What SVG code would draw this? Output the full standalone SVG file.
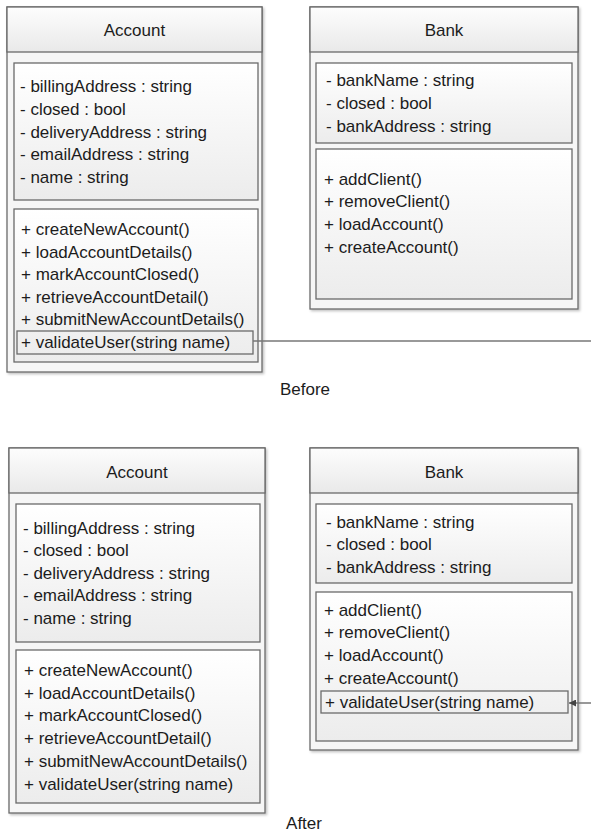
<svg xmlns="http://www.w3.org/2000/svg" width="591" height="834" viewBox="0 0 591 834">
  <defs>
    <linearGradient id="boxFill" x1="0" y1="0" x2="0" y2="1">
      <stop offset="0" stop-color="#ffffff"/>
      <stop offset="1" stop-color="#ececec"/>
    </linearGradient>
    <linearGradient id="headFill" x1="0" y1="0" x2="0" y2="1">
      <stop offset="0" stop-color="#fdfdfd"/>
      <stop offset="1" stop-color="#e9e9e9"/>
    </linearGradient>
    <filter id="shadow" x="-5%" y="-5%" width="110%" height="110%">
      <feDropShadow dx="1.5" dy="1.5" stdDeviation="1" flood-color="#000" flood-opacity="0.25"/>
    </filter>
    <marker id="arrow" viewBox="0 0 10 10" refX="10" refY="5" markerWidth="7" markerHeight="7" orient="auto-start-reverse" markerUnits="userSpaceOnUse">
      <path d="M0,0 L10,5 L0,10 z" fill="#444"/>
    </marker>
  </defs>
  <style>
    .outer { fill: #f6f6f6; stroke: #6a6a6a; stroke-width: 1.3; }
    .head { fill: url(#headFill); stroke: #6a6a6a; stroke-width: 1.3; }
    .comp { fill: url(#boxFill); stroke: #6a6a6a; stroke-width: 1.3; }
    .hl { fill: none; stroke: #6a6a6a; stroke-width: 1.3; }
    .conn { fill: none; stroke: #777; stroke-width: 1.5; }
    text { font-family: "Liberation Sans", Arial, sans-serif; font-size: 17px; fill: #1c1c1c; }
    .title { text-anchor: middle; }
    .cap { text-anchor: middle; }
  </style>

  <rect width="591" height="834" fill="#ffffff"/>

  <!-- Before: Account class -->
  <g id="account-before">
    <rect class="outer" x="7" y="7" width="255" height="365" filter="url(#shadow)"/>
    <rect class="head" x="7" y="7" width="255" height="45"/>
    <text class="title" x="134.5" y="36">Account</text>
    <rect class="comp" x="14" y="63" width="244" height="137"/>
    <text x="20" y="92">- billingAddress : string</text>
    <text x="20" y="115">- closed : bool</text>
    <text x="20" y="138">- deliveryAddress : string</text>
    <text x="20" y="160">- emailAddress : string</text>
    <text x="20" y="183">- name : string</text>
    <rect class="comp" x="14" y="209" width="244" height="153"/>
    <text x="21" y="235">+ createNewAccount()</text>
    <text x="21" y="258">+ loadAccountDetails()</text>
    <text x="21" y="280">+ markAccountClosed()</text>
    <text x="21" y="303">+ retrieveAccountDetail()</text>
    <text x="21" y="325">+ submitNewAccountDetails()</text>
    <rect class="hl" x="17" y="331" width="236" height="23"/>
    <text x="21" y="348">+ validateUser(string name)</text>
  </g>

  <!-- Before: Bank class -->
  <g id="bank-before">
    <rect class="outer" x="310" y="7" width="268" height="302" filter="url(#shadow)"/>
    <rect class="head" x="310" y="7" width="268" height="45"/>
    <text class="title" x="444" y="36">Bank</text>
    <rect class="comp" x="316" y="63" width="256" height="80"/>
    <text x="326" y="86">- bankName : string</text>
    <text x="326" y="109">- closed : bool</text>
    <text x="326" y="132">- bankAddress : string</text>
    <rect class="comp" x="316" y="149" width="256" height="150"/>
    <text x="324" y="185">+ addClient()</text>
    <text x="324" y="207">+ removeClient()</text>
    <text x="324" y="230">+ loadAccount()</text>
    <text x="324" y="253">+ createAccount()</text>
  </g>

  <!-- After: Account class -->
  <g id="account-after">
    <rect class="outer" x="9" y="448" width="256" height="365" filter="url(#shadow)"/>
    <rect class="head" x="9" y="448" width="256" height="45"/>
    <text class="title" x="137" y="478">Account</text>
    <rect class="comp" x="16" y="504" width="244" height="138"/>
    <text x="23" y="534">- billingAddress : string</text>
    <text x="23" y="556">- closed : bool</text>
    <text x="23" y="579">- deliveryAddress : string</text>
    <text x="23" y="601">- emailAddress : string</text>
    <text x="23" y="624">- name : string</text>
    <rect class="comp" x="16" y="650" width="244" height="153"/>
    <text x="24" y="676">+ createNewAccount()</text>
    <text x="24" y="699">+ loadAccountDetails()</text>
    <text x="24" y="721">+ markAccountClosed()</text>
    <text x="24" y="744">+ retrieveAccountDetail()</text>
    <text x="24" y="767">+ submitNewAccountDetails()</text>
    <text x="24" y="790">+ validateUser(string name)</text>
  </g>

  <!-- After: Bank class -->
  <g id="bank-after">
    <rect class="outer" x="310" y="448" width="268" height="302" filter="url(#shadow)"/>
    <rect class="head" x="310" y="448" width="268" height="45"/>
    <text class="title" x="444" y="478">Bank</text>
    <rect class="comp" x="316" y="504" width="256" height="79"/>
    <text x="326" y="528">- bankName : string</text>
    <text x="326" y="550">- closed : bool</text>
    <text x="326" y="573">- bankAddress : string</text>
    <rect class="comp" x="316" y="592" width="256" height="149"/>
    <text x="324" y="616">+ addClient()</text>
    <text x="324" y="638">+ removeClient()</text>
    <text x="324" y="661">+ loadAccount()</text>
    <text x="324" y="684">+ createAccount()</text>
    <rect class="hl" x="321" y="691" width="247" height="22"/>
    <text x="325" y="708">+ validateUser(string name)</text>
  </g>

  <!-- Connectors -->
  <g id="connectors">
    <line class="conn" x1="253" y1="341" x2="591" y2="341"/>
    <line class="conn" x1="591" y1="703" x2="569" y2="703" marker-end="url(#arrow)"/>
  </g>

  <!-- Captions -->
  <g id="captions">
    <text class="cap" x="305" y="395">Before</text>
    <text class="cap" x="304" y="829">After</text>
  </g>
</svg>
